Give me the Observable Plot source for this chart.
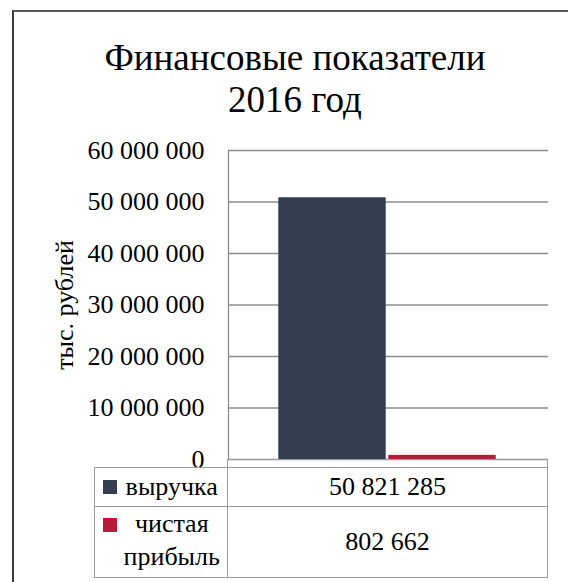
<!DOCTYPE html>
<html>
<head>
<meta charset="utf-8">
<script src="https://cdn.jsdelivr.net/npm/d3@7"></script>
<script src="https://cdn.jsdelivr.net/npm/@observablehq/plot@0.6"></script>
<style>
  body { margin: 0; background: #fff; font-family: serif; }
  .fw { position: relative; width: 568px; height: 582px; overflow: hidden; color: #000; }
  .fb { position: absolute; left: 12px; top: 10px; width: 600px; height: 600px;
        border-left: 2px solid #3c3c3c; border-top: 2px solid #5a5a5a; }
  .fh { position: absolute; left: 0; width: 590px; top: 37px; text-align: center;
        font-size: 37px; line-height: 42px; font-family: serif; }
  .fp { position: absolute; left: 0; top: 140px; }
  .strip { position: absolute; box-sizing: border-box; left: 227px; top: 458.5px; width: 321px; height: 9.5px;
           border: 1.5px solid #9c9c9c; border-bottom: none; }
  .tb { position: absolute; box-sizing: border-box; left: 93.5px; top: 466.5px; width: 454.5px; height: 111px;
        border: 1.5px solid #9c9c9c; background: #fff; display: grid;
        grid-template-columns: 133.5px 1fr; grid-template-rows: 39.5px 1fr;
        font-size: 26px; font-family: serif; }
  .c { box-sizing: border-box; display: flex; align-items: center; }
  .c.l { border-right: 1.5px solid #9c9c9c; }
  .c.t { border-bottom: 1.5px solid #9c9c9c; }
  .c.v { justify-content: center; }
  .c.top { align-items: flex-start; }
  .sq { width: 14px; height: 14px; flex: none; margin-left: 8px; }
  .txt { flex: 1; text-align: center; line-height: 33px; }
</style>
</head>
<body>
<div class="fw">
  <div class="fb"></div>
  <div class="fh"></div>
  <div class="fp"></div>
  <div class="strip"></div>
  <div class="tb"></div>
</div>
<script>
// ---- data ----
const titleLines = ["Финансовые показатели", "2016 год"];
const series = ["выручка", "чистая прибыль"];
const seriesLines = [["выручка"], ["чистая", "прибыль"]];
const values = [50821285, 802662];
const colors = ["#353e4e", "#b81a3c"];
const yTicks = [0, 10000000, 20000000, 30000000, 40000000, 50000000, 60000000];
const yLabel = "тыс. рублей";

const fmt = d3.formatLocale({decimal: ",", thousands: " ", grouping: [3], currency: ["", ""]}).format(",");

// title
document.querySelector(".fh").innerHTML = titleLines.join("<br>");

// chart
const data = series.map((name, i) => ({name, value: values[i]}));
const chart = Plot.plot({
  width: 568,
  height: 327,
  marginTop: 10,
  marginBottom: 8,
  marginLeft: 228,
  marginRight: 20,
  style: "font-family: serif; font-size: 26px; color: #000; background: transparent; overflow: visible;",
  x: {domain: series, range: [277, 497.5], padding: 0, axis: null},
  y: {domain: [0, 60000000]},
  color: {domain: series, range: colors},
  marks: [
    Plot.ruleY(yTicks, {stroke: "#8c8c8c", strokeWidth: 1.3}),
    Plot.frame({anchor: "left", stroke: "#8c8c8c", strokeWidth: 1.3}),
    Plot.barY(data, {x: "name", y: "value", fill: "name", insetLeft: 1.3, insetRight: 1.3}),
    Plot.axisY(yTicks, {tickSize: 0, tickPadding: 24, tickFormat: fmt, fontSize: 26,
      label: yLabel, labelAnchor: "center", labelArrow: "none", labelOffset: 174})
  ]
});
chart.setAttribute("font-family", "serif");
document.querySelector(".fp").appendChild(chart);

// data table
const tb = document.querySelector(".tb");
series.forEach((name, i) => {
  const last = i === series.length - 1;
  const c1 = document.createElement("div");
  c1.className = "c l" + (last ? " top" : " t");
  const sq = document.createElement("div");
  sq.className = "sq";
  sq.style.background = colors[i];
  if (seriesLines[i].length > 1) sq.style.marginTop = "11px";
  const t = document.createElement("div");
  t.className = "txt";
  t.innerHTML = seriesLines[i].join("<br>");
  c1.appendChild(sq); c1.appendChild(t);
  const c2 = document.createElement("div");
  c2.className = "c v" + (last ? "" : " t");
  c2.textContent = fmt(values[i]);
  tb.appendChild(c1); tb.appendChild(c2);
});
</script>
</body>
</html>
